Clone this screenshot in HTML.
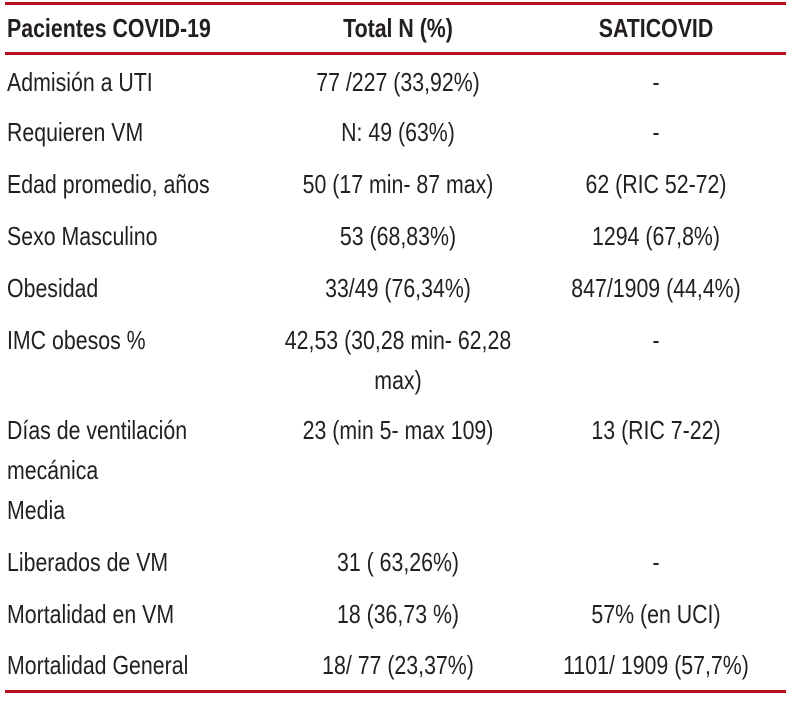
<!DOCTYPE html>
<html><head><meta charset="utf-8"><style>
body{margin:0;width:792px;height:706px;background:#fff;position:relative;overflow:hidden;font-family:"Liberation Sans Narrow","Liberation Sans",sans-serif;font-size:26px;color:#231f20}
.l{position:absolute;left:5px;width:781px;height:3px;background:#b5121b}
.t{position:absolute;line-height:40px;white-space:nowrap;transform:scaleX(0.82);margin-top:-2px}
.a{left:7px;transform-origin:0 0}
.b{left:258px;width:280px;text-align:center;transform-origin:50% 0}
.c{left:530px;width:252px;text-align:center;transform-origin:50% 0}
.h{font-weight:bold}
</style></head><body>
<div class="l" style="top:2px"></div>
<div class="l" style="top:52px"></div>
<div class="l" style="top:690px"></div>
<div class="t a h" style="top:10px">Pacientes COVID-19</div>
<div class="t b h" style="top:10px">Total N (%)</div>
<div class="t c h" style="top:10px">SATICOVID</div>

<div class="t a" style="top:64px">Admisión a UTI</div><div class="t b" style="top:64px">77 /227 (33,92%)</div><div class="t c" style="top:64px">-</div>
<div class="t a" style="top:114px">Requieren VM</div><div class="t b" style="top:114px">N: 49 (63%)</div><div class="t c" style="top:114px">-</div>
<div class="t a" style="top:166px">Edad promedio, años</div><div class="t b" style="top:166px">50 (17 min- 87 max)</div><div class="t c" style="top:166px">62 (RIC 52-72)</div>
<div class="t a" style="top:218px">Sexo Masculino</div><div class="t b" style="top:218px">53 (68,83%)</div><div class="t c" style="top:218px">1294 (67,8%)</div>
<div class="t a" style="top:270px">Obesidad</div><div class="t b" style="top:270px">33/49 (76,34%)</div><div class="t c" style="top:270px">847/1909 (44,4%)</div>
<div class="t a" style="top:322px">IMC obesos %</div><div class="t b" style="top:322px">42,53 (30,28 min- 62,28<br>max)</div><div class="t c" style="top:322px">-</div>
<div class="t a" style="top:412px">Días de ventilación<br>mecánica<br>Media</div><div class="t b" style="top:412px">23 (min 5- max 109)</div><div class="t c" style="top:412px">13 (RIC 7-22)</div>
<div class="t a" style="top:544px">Liberados de VM</div><div class="t b" style="top:544px">31 ( 63,26%)</div><div class="t c" style="top:544px">-</div>
<div class="t a" style="top:596px">Mortalidad en VM</div><div class="t b" style="top:596px">18 (36,73 %)</div><div class="t c" style="top:596px">57% (en UCI)</div>
<div class="t a" style="top:647px">Mortalidad General</div><div class="t b" style="top:647px">18/ 77 (23,37%)</div><div class="t c" style="top:647px">1101/ 1909 (57,7%)</div>
</body></html>
